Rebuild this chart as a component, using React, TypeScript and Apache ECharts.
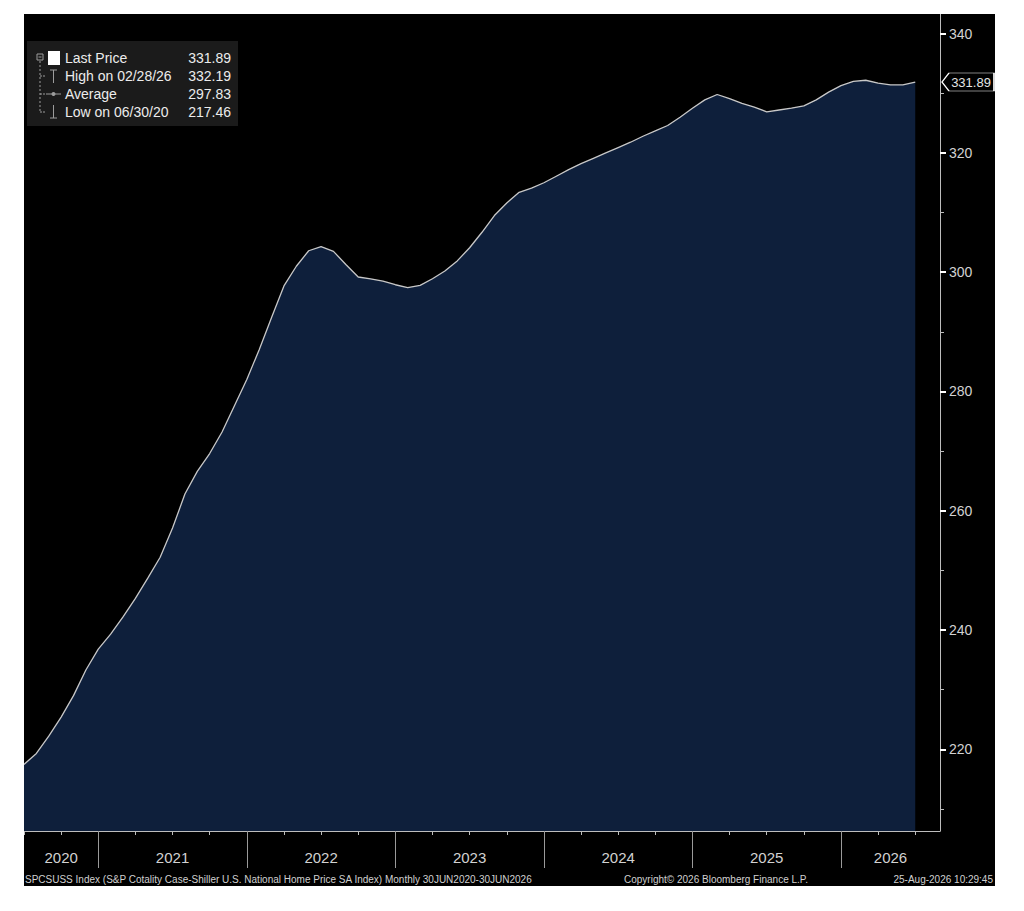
import { useEffect, useRef } from "react"
import * as echarts from "echarts"

// SPCSUSS Index, monthly, index 0 = 30 Jun 2020 ... index 72 = 30 Jun 2026
const HPI = [
  217.46, 219.3, 222.2, 225.4, 229.0, 233.3, 236.8, 239.3, 242.2, 245.3,
  248.7, 252.2, 257.1, 262.8, 266.6, 269.6, 273.2, 277.6, 282.0, 287.0,
  292.4, 297.7, 301.0, 303.6, 304.3, 303.5, 301.3, 299.2, 298.9, 298.5,
  297.9, 297.4, 297.8, 298.9, 300.2, 301.9, 304.1, 306.7, 309.5, 311.6,
  313.4, 314.1, 315.0, 316.1, 317.2, 318.2, 319.1, 320.0, 320.9, 321.8,
  322.8, 323.7, 324.6, 326.0, 327.5, 328.9, 329.8, 329.1, 328.3, 327.7,
  326.9, 327.2, 327.5, 327.9, 328.9, 330.2, 331.3, 332.0, 332.19, 331.7,
  331.4, 331.4, 331.89,
]

const YEAR_LABELS = ["2020", "2021", "2022", "2023", "2024", "2025", "2026"]
const Y_MAJOR = [220, 240, 260, 280, 300, 320, 340]
const Y_MINOR = [210, 230, 250, 270, 290, 310, 330]

const LEGEND_NAMES = ["Last Price", "High on 02/28/26", "Average", "Low on 06/30/20"]
const LEGEND_VALUES = ["331.89", "332.19", "297.83", "217.46"]
const LAST_PRICE = 331.89

const FOOTER_LEFT =
  "SPCSUSS Index (S&P Cotality Case-Shiller U.S. National Home Price SA Index) Monthly 30JUN2020-30JUN2026"
const FOOTER_MID = "Copyright\u00a9 2026 Bloomberg Finance L.P."
const FOOTER_RIGHT = "25-Aug-2026 10:29:45"

// axis window: months after Jun 2020, through end of Aug 2026
const X_MAX = 74
const Y_MIN = 206.3
const Y_MAX = 343.3

const FONT = "Liberation Sans"
const AXIS_TEXT = "#d2d2d2"
const AXIS_LINE = "#bdbdbd"
const PLOT_W = 916

export default function App() {
  const chartRef = useRef<HTMLDivElement>(null)

  useEffect(() => {
    if (!chartRef.current) return
    const chart = echarts.init(chartRef.current, null, { renderer: "svg" })

    // Jan 1 of each year after 2020 falls at month index 6, 18, 30 ...
    const yearStart = (k: number) => 6 + 12 * (k - 1)
    const yearStarts = YEAR_LABELS.slice(1).map((_, k) => yearStart(k + 1))
    const yearMids = YEAR_LABELS.map((_, k) => {
      const a = Math.max(0, yearStart(k))
      const b = Math.min(X_MAX, yearStart(k + 1))
      return (a + b) / 2
    })
    const quarters: number[] = []
    for (let m = 0; m <= X_MAX; m += 3) quarters.push(m)

    const rowY = (r: number) => 44 + r * 18
    const iconColor = "#9c9c9c"

    const legend: any[] = [
      { type: "rect", shape: { x: 3, y: 27, width: 211, height: 85 }, style: { fill: "#1b1b1b" } },
      // tree
      { type: "rect", shape: { x: 13, y: 40, width: 6, height: 6 }, style: { fill: "none", stroke: iconColor, lineWidth: 1 } },
      { type: "line", shape: { x1: 14.5, y1: 43, x2: 17.5, y2: 43 }, style: { stroke: iconColor, lineWidth: 1 } },
      { type: "line", shape: { x1: 16, y1: 47, x2: 16, y2: rowY(3) }, style: { stroke: iconColor, lineWidth: 1, lineDash: [2, 2] } },
      ...[1, 2, 3].map((r) => ({
        type: "line",
        shape: { x1: 16, y1: rowY(r), x2: 22, y2: rowY(r) },
        style: { stroke: iconColor, lineWidth: 1, lineDash: [2, 1] },
      })),
      { type: "rect", shape: { x: 24, y: 37, width: 12, height: 14 }, style: { fill: "#ffffff" } },
      // high icon
      { type: "line", shape: { x1: 26, y1: rowY(1) - 6, x2: 33, y2: rowY(1) - 6 }, style: { stroke: iconColor, lineWidth: 1 } },
      { type: "line", shape: { x1: 29.5, y1: rowY(1) - 6, x2: 29.5, y2: rowY(1) + 7 }, style: { stroke: iconColor, lineWidth: 1 } },
      // average icon
      { type: "line", shape: { x1: 22, y1: rowY(2), x2: 37, y2: rowY(2) }, style: { stroke: iconColor, lineWidth: 1 } },
      { type: "circle", shape: { cx: 29.5, cy: rowY(2), r: 2 }, style: { fill: iconColor } },
      // low icon
      { type: "line", shape: { x1: 29.5, y1: rowY(3) - 7, x2: 29.5, y2: rowY(3) + 6 }, style: { stroke: iconColor, lineWidth: 1 } },
      { type: "line", shape: { x1: 26, y1: rowY(3) + 6, x2: 33, y2: rowY(3) + 6 }, style: { stroke: iconColor, lineWidth: 1 } },
      ...LEGEND_NAMES.map((name, r) => ({
        type: "text",
        x: 41,
        y: rowY(r),
        style: { text: name, fill: "#ececec", font: `14px "${FONT}"`, textVerticalAlign: "middle" },
      })),
      ...LEGEND_VALUES.map((v, r) => ({
        type: "text",
        x: 207,
        y: rowY(r),
        style: { text: v, fill: "#ececec", font: `14px "${FONT}"`, textAlign: "right", textVerticalAlign: "middle" },
      })),
    ]

    const footer = [
      { type: "text", x: 1, y: 865, style: { text: FOOTER_LEFT, textAlign: "left" } },
      { type: "text", x: 692, y: 865, style: { text: FOOTER_MID, textAlign: "center" } },
      { type: "text", x: 969, y: 865, style: { text: FOOTER_RIGHT, textAlign: "right" } },
    ].map((t) => ({
      ...t,
      style: { ...t.style, fill: "#d0d0d0", font: `10px "${FONT}"`, textVerticalAlign: "middle" },
    }))

    chart.setOption({
      animation: false,
      backgroundColor: "#000000",
      textStyle: { fontFamily: FONT },
      grid: { left: 0, top: 0, right: 55, bottom: 55 },
      xAxis: [
        {
          type: "value",
          min: 0,
          max: X_MAX,
          axisLine: { show: true, onZero: false, lineStyle: { color: AXIS_LINE, width: 1 } },
          axisTick: { show: true, customValues: quarters, length: 4, lineStyle: { color: AXIS_LINE } },
          axisLabel: {
            customValues: yearMids,
            formatter: (v: number) => YEAR_LABELS[yearMids.indexOf(v)] ?? "",
            color: AXIS_TEXT,
            fontSize: 15,
            margin: 19,
          },
          splitLine: { show: false },
        },
        {
          type: "value",
          min: 0,
          max: X_MAX,
          position: "bottom",
          axisLine: { show: false, onZero: false },
          axisTick: { show: true, customValues: yearStarts, length: 37, lineStyle: { color: "#9a9a9a" } },
          axisLabel: { show: false },
          splitLine: { show: false },
        },
      ],
      yAxis: [
        {
          type: "value",
          position: "right",
          min: Y_MIN,
          max: Y_MAX,
          axisLine: { show: true, onZero: false, lineStyle: { color: AXIS_LINE, width: 1 } },
          axisTick: { show: true, customValues: Y_MAJOR, length: 6, lineStyle: { color: "#ffffff", width: 2 } },
          axisLabel: { customValues: Y_MAJOR, color: AXIS_TEXT, fontSize: 14, margin: 9 },
          splitLine: { show: false },
        },
        {
          // minor ticks: a left-placed axis shifted onto the right edge, ticks pointing right
          type: "value",
          position: "left",
          offset: -PLOT_W,
          min: Y_MIN,
          max: Y_MAX,
          axisLine: { show: false, onZero: false },
          axisTick: { show: true, inside: true, customValues: Y_MINOR, length: 4, lineStyle: { color: AXIS_LINE } },
          axisLabel: { show: false },
          splitLine: { show: false },
        },
      ],
      series: [
        {
          type: "line",
          xAxisIndex: 0,
          yAxisIndex: 0,
          data: HPI.map((v, i) => [i, v]),
          symbol: "none",
          clip: false,
          lineStyle: { color: "#c8c8c8", width: 1.3 },
          areaStyle: { color: "#0e1f3b", opacity: 1, origin: "start" },
          markPoint: {
            symbol: "path://M0,9L7,0L52,0L52,18L7,18Z",
            symbolSize: [52, 18],
            symbolOffset: [28, 0],
            itemStyle: { color: "#000000", borderColor: "#ffffff", borderWidth: 1 },
            label: {
              show: true,
              position: "inside",
              offset: [3, 0],
              color: "#e4e4e4",
              fontSize: 13,
              formatter: "{c}",
            },
            data: [{ coord: [X_MAX, LAST_PRICE], value: LAST_PRICE }],
          },
        },
      ],
      graphic: [...legend, ...footer],
    })

    return () => chart.dispose()
  }, [])

  return (
    <div
      ref={chartRef}
      style={{ position: "absolute", left: 24, top: 14, width: 971, height: 872, background: "#000" }}
    />
  )
}
